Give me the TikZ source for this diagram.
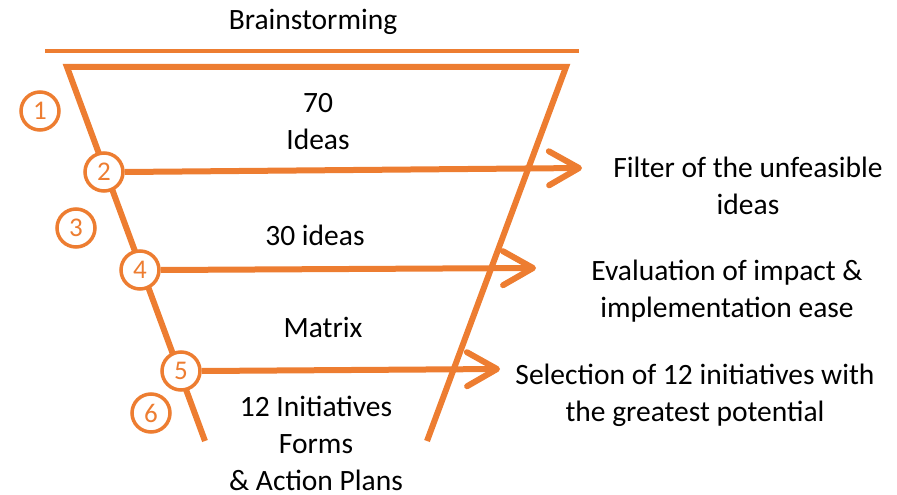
\documentclass[tikz,border=0pt]{standalone}
\usepackage{fontspec}
\setmainfont{Carlito}
\usetikzlibrary{arrows.meta}
\definecolor{funnel}{HTML}{ED7D31}
\begin{document}
\begin{tikzpicture}[x=1pt,y=-1pt,
  thick line/.style={draw=funnel,line width=6pt},
  num/.style={circle,draw=funnel,line width=3.5pt,fill=white,text=funnel,minimum size=38pt,inner sep=0pt,font=\fontsize{27}{27}\selectfont},
  lbl/.style={align=center,font=\fontsize{29.5}{37}\selectfont,text=black,inner sep=0pt},
  arr/.style={thick line,-{Straight Barb[length=30pt,width=34pt,round]}}
]
\useasboundingbox (0,0) rectangle (897,495);
% top thin line
\coordinate (ta) at (45,51);
\coordinate (tb) at (579,51);
\draw[draw=funnel,line width=4pt] (ta) -- (tb);
% funnel
\coordinate (tl) at (67,67);
\coordinate (tr) at (566,67);
\coordinate (bl) at (205,441);
\coordinate (br) at (427,441);
\draw[thick line,line join=miter] (bl) -- (tl) -- (tr) -- (br);
% circles
\node[num] (c1) at (40,111) {1};
\node[num] (c2) at (104,172) {2};
\node[num] (c3) at (76,228) {3};
\node[num] (c4) at (140,270) {4};
\node[num] (c5) at (181,371) {5};
\node[num] (c6) at (151,413) {6};
% arrow ends
\coordinate (a1) at (582,168);
\coordinate (a2) at (536,268);
\coordinate (a3) at (500,369);
\draw[arr] (c2.east) -- (a1);
\draw[arr] (c4.east) -- (a2);
\draw[arr] (c5.east) -- (a3);
% labels
\node[lbl] (t0) at (313,22) {Brainstorming};
\node[lbl] (t1) at (318,122) {70\\Ideas};
\node[lbl] (t2) at (315,235) {30 ideas};
\node[lbl] (t3) at (323,327) {Matrix};
\node[lbl] (t4) at (316,443) {12 Initiatives\\Forms\\\& Action Plans};
\node[lbl] (r1) at (748,186) {Filter of the unfeasible\\ideas};
\node[lbl] (r2) at (727,291) {Evaluation of impact \&\\implementation ease};
\node[lbl] (r3) at (695,395) {Selection of 12 initiatives with\\the greatest potential};
\end{tikzpicture}
\end{document}
